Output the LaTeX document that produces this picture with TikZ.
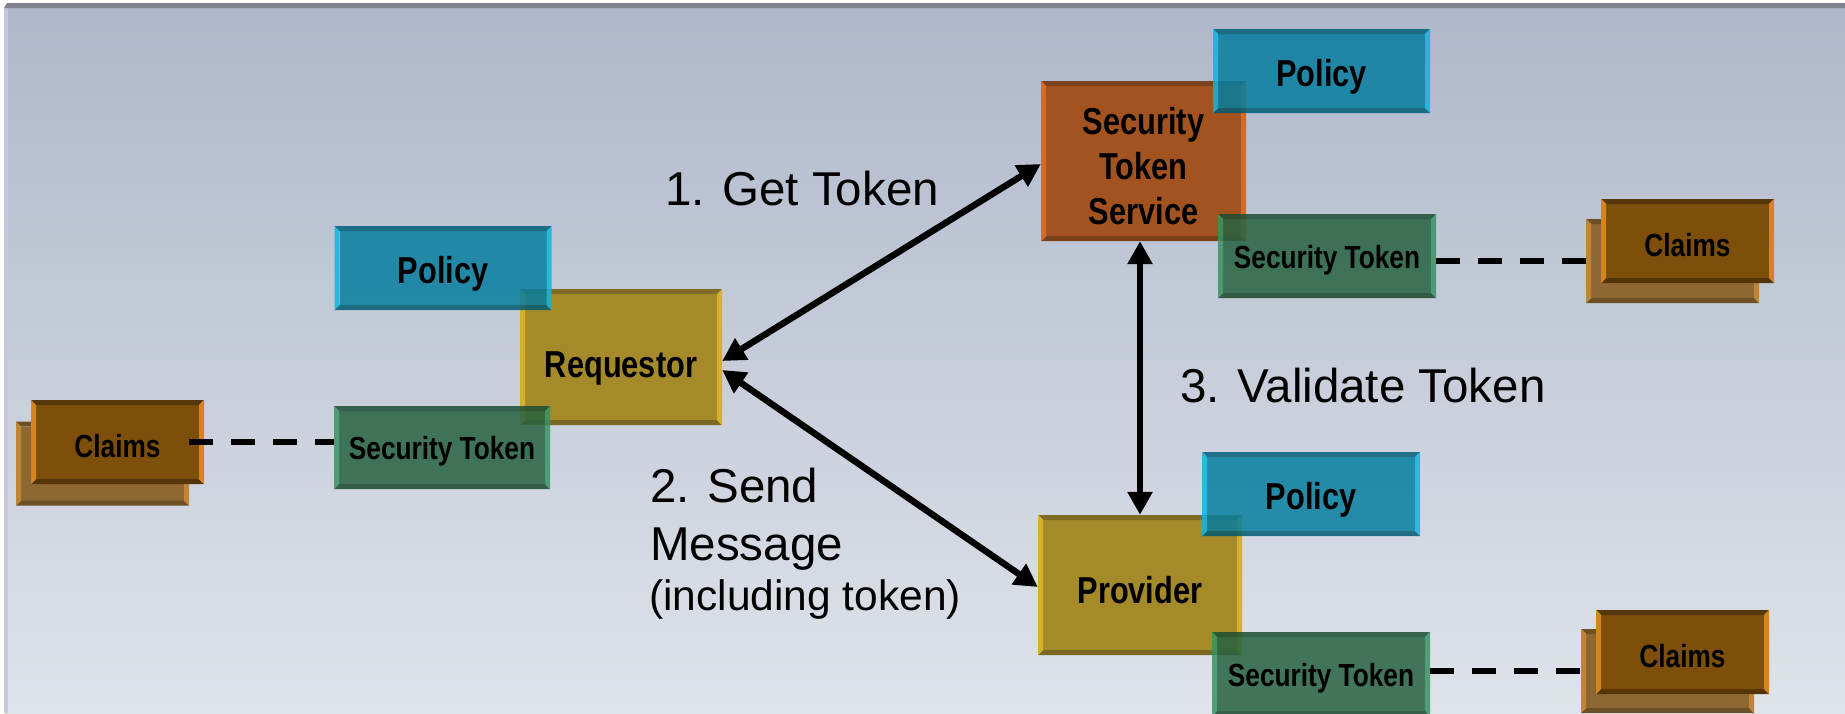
\documentclass[tikz,border=0pt]{standalone}
\usepackage{fontspec}
\setmainfont{Liberation Sans}
\newfontfamily\boxfont[FakeStretch=0.82]{Liberation Sans}
\usetikzlibrary{arrows.meta}
\definecolor{bgTop}{HTML}{AEB8CA}
\definecolor{bgBot}{HTML}{DFE3EA}
\definecolor{frameT}{HTML}{7E838D}
\definecolor{frameL}{HTML}{C3C9D4}
% policy (semi transparent)
\definecolor{polM}{HTML}{067E9F}\definecolor{polT}{HTML}{025E78}\definecolor{polB}{HTML}{005C73}
\definecolor{polL}{HTML}{10B3E0}\definecolor{polR}{HTML}{10B3E0}
% security token (semi transparent)
\definecolor{stM}{HTML}{276341}\definecolor{stT}{HTML}{1A4E32}\definecolor{stB}{HTML}{18482C}
\definecolor{stL}{HTML}{389263}\definecolor{stR}{HTML}{389263}
% requestor / provider
\definecolor{rqM}{HTML}{A48A29}\definecolor{rqT}{HTML}{7F6B25}\definecolor{rqB}{HTML}{7D6823}
\definecolor{rqL}{HTML}{D6B02B}\definecolor{rqR}{HTML}{D6B02B}
% STS
\definecolor{ssM}{HTML}{A2531F}\definecolor{ssT}{HTML}{7C421D}\definecolor{ssB}{HTML}{7A3F1B}
\definecolor{ssL}{HTML}{D56B27}\definecolor{ssR}{HTML}{D56B27}
% claims front / back
\definecolor{cfM}{HTML}{7D4F0B}\definecolor{cfT}{HTML}{563709}\definecolor{cfB}{HTML}{553508}
\definecolor{cfL}{HTML}{D4851C}\definecolor{cfR}{HTML}{D4851C}
\definecolor{cbM}{HTML}{8D6832}\definecolor{cbT}{HTML}{6E5027}\definecolor{cbB}{HTML}{6D5026}
\definecolor{cbL}{HTML}{BF8434}\definecolor{cbR}{HTML}{BF8434}

\newcommand\bevfill[2]{%
  \path (path picture bounding box.north west) coordinate (pNW)
        (path picture bounding box.north east) coordinate (pNE)
        (path picture bounding box.south west) coordinate (pSW)
        (path picture bounding box.south east) coordinate (pSE);
  \fill[#1M, fill opacity=#2] ([xshift=5pt,yshift=-5pt]pNW) rectangle ([xshift=-5pt,yshift=5pt]pSE);
  \fill[#1T, fill opacity=#2] (pNW) -- (pNE) -- ([xshift=-5pt,yshift=-5pt]pNE) -- ([xshift=5pt,yshift=-5pt]pNW) -- cycle;
  \fill[#1B, fill opacity=#2] (pSW) -- (pSE) -- ([xshift=-5pt,yshift=5pt]pSE) -- ([xshift=5pt,yshift=5pt]pSW) -- cycle;
  \fill[#1L, fill opacity=#2] (pNW) -- ([xshift=5pt,yshift=-5pt]pNW) -- ([xshift=5pt,yshift=5pt]pSW) -- (pSW) -- cycle;
  \fill[#1R, fill opacity=#2] (pNE) -- ([xshift=-5pt,yshift=-5pt]pNE) -- ([xshift=-5pt,yshift=5pt]pSE) -- (pSE) -- cycle;
}

\tikzset{
  bev/.style 2 args={rectangle, inner sep=0pt, path picture={\bevfill{#1}{#2}}},
  bigtxt/.style={font=\boxfont\bfseries\fontsize{37.5}{45}\selectfont},
  smtxt/.style={font=\boxfont\bfseries\fontsize{32}{38}\selectfont},
  pbox/.style={minimum width=217pt, minimum height=84pt, text height=30pt, text depth=0pt},
  sbox/.style={minimum width=218pt, minimum height=84pt, smtxt, text height=24pt, text depth=0pt},
  cbox/.style={minimum width=173pt, minimum height=84pt, smtxt, text height=31pt, text depth=0pt},
  lbl/.style={inner sep=0pt, anchor=base west, font=\fontsize{47.5}{57}\selectfont},
  lblsm/.style={inner sep=0pt, anchor=base west, font=\fontsize{42.5}{50}\selectfont},
  arr/.style={line width=6.5pt, {Triangle[length=23pt,width=24pt]}-{Triangle[length=23pt,width=24pt]}},
  dsh/.style={line width=6pt, dash pattern=on 24pt off 18pt},
}

\begin{document}
\begin{tikzpicture}[x=1pt,y=-1pt]
\useasboundingbox (0,0) rectangle (1845,713);
\fill[white] (0,0) rectangle (1845,713);
\shade[top color=bgTop, bottom color=bgBot] (5,8) rectangle (1845,713);
\fill[frameL] (4,8) rectangle (8,713);
\fill[frameT] (7,3) -- (1845,3) -- (1845,8) -- (4,8) -- cycle;

% left group
\node[bev={cb}{1}, cbox] (clLb) at (102.5,463.5) {};
\node[bev={cf}{1}, cbox] (clL) at (117.5,442) {Claims};
\node[bev={rq}{1}, bigtxt, minimum width=202pt, minimum height=136pt, text height=40pt, text depth=0pt] (req) at (621,357) {Requestor};
\node[bev={pol}{0.85}, pbox, bigtxt] (polR) at (443,268) {Policy};
\node[bev={st}{0.85}, sbox, minimum width=216pt, minimum height=83pt] (stR) at (442,447.5) {Security Token};

% STS group
\node[bev={ss}{1}, bigtxt, align=center, minimum width=205pt, minimum height=160pt] (sts) at (1143.5,161) {\rule{0pt}{38pt}Security\\Token\\Service};
\node[bev={pol}{0.85}, pbox, bigtxt] (polS) at (1321.5,71) {Policy};
\node[bev={st}{0.85}, sbox] (stS) at (1327,256) {Security Token};
\node[bev={cb}{1}, cbox] (clTb) at (1672.5,261) {};
\node[bev={cf}{1}, cbox] (clT) at (1687.5,241) {Claims};

% provider group
\node[bev={rq}{1}, bigtxt, minimum width=204pt, minimum height=140pt, text height=36pt, text depth=0pt] (prov) at (1140,585) {Provider};
\node[bev={pol}{0.85}, pbox, bigtxt, minimum width=218pt] (polP) at (1311,494) {Policy};
\node[bev={st}{0.85}, sbox] (stP) at (1321,674) {Security Token};
\node[bev={cb}{1}, cbox] (clBb) at (1667.5,671) {};
\node[bev={cf}{1}, cbox] (clB) at (1682.5,652) {Claims};

% connectors
\draw[dsh] (clLb.east |- clL.east) -- (stR.west |- clL.east);
\draw[dsh] (stS.east |- clTb.west) -- (clTb.west);
\draw[dsh] (stP.east |- clBb.west) -- (clBb.west);

\draw[arr] ([yshift=-4pt]req.east) -- ([yshift=-3pt]sts.west);
\draw[arr] ([yshift=-13pt]req.east) -- ([yshift=-2pt]prov.west);
\draw[arr] (prov.north |- sts.south) -- (prov.north);

% labels
\node[lbl] (l1) at (665,205) {1. Get Token};
\node[lbl] (l3) at (1180,402) {3. Validate Token};
\node[lbl] (l2a) at (650,502) {2. Send};
\node[lbl] (l2b) at (650,560) {Message};
\node[lblsm] (l2c) at (649,610) {(including token)};
\end{tikzpicture}
\end{document}
